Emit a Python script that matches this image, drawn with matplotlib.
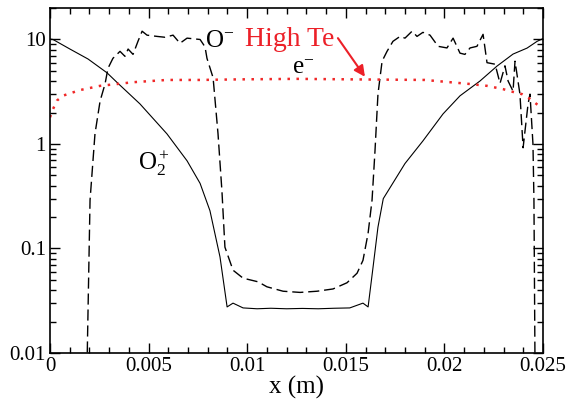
import numpy as np
import matplotlib
matplotlib.use("Agg")
import matplotlib.pyplot as plt
from matplotlib.ticker import FixedLocator, FixedFormatter, LogLocator, NullFormatter, MultipleLocator

plt.rcParams['font.family'] = ['Liberation Serif', 'DejaVu Serif']
plt.rcParams['mathtext.fontset'] = 'custom'
plt.rcParams['mathtext.rm'] = 'Liberation Serif'
plt.rcParams['mathtext.it'] = 'Liberation Serif:italic'

# O2+ (solid)
x_o2 = [0.0, 0.00015, 0.00101, 0.00193, 0.00289, 0.00345, 0.00456, 0.00593, 0.00695,
        0.00761, 0.00811, 0.00862, 0.00898, 0.00928, 0.00979, 0.0105, 0.0112, 0.012,
        0.0128, 0.0136, 0.0144, 0.0152, 0.01587, 0.01613, 0.01638, 0.01663, 0.01690,
        0.0180, 0.01891, 0.01993, 0.02079, 0.0218, 0.02267, 0.02348, 0.02419, 0.0247, 0.025]
y_o2 = [10.1, 10.0, 8.1, 6.5, 4.8, 3.8, 2.42, 1.25, 0.69,
        0.42, 0.23, 0.083, 0.0276, 0.030, 0.027, 0.0265, 0.0268, 0.0265,
        0.0267, 0.0265, 0.0268, 0.027, 0.030, 0.0276, 0.066, 0.16, 0.30,
        0.65, 1.07, 1.94, 2.89, 4.0, 5.57, 7.25, 8.27, 9.6, 10.2]

# O- (dashed)
x_on = [0.00186, 0.00203, 0.00228, 0.00254, 0.00279, 0.00294, 0.00319, 0.00355, 0.0038,
        0.00396, 0.00421, 0.00446, 0.00467, 0.00492, 0.00543, 0.00583, 0.00624, 0.00659,
        0.00695, 0.00761, 0.00786, 0.00796, 0.00827, 0.00852, 0.00872, 0.00887, 0.00928,
        0.00979, 0.01055, 0.011, 0.01182, 0.01268, 0.01354, 0.01435, 0.01506, 0.01557,
        0.01587, 0.01613, 0.01633, 0.01648, 0.01663, 0.01684, 0.01709, 0.01739, 0.01775,
        0.018, 0.01836, 0.01861, 0.01891, 0.01927, 0.01968, 0.02013, 0.02044, 0.02079,
        0.02104, 0.0213, 0.02165, 0.02196, 0.02216, 0.02257, 0.02282, 0.02307, 0.02323,
        0.02348, 0.02358, 0.02383, 0.02399, 0.02424, 0.02434, 0.02449, 0.02454, 0.0246]
y_on = [0.005, 0.29, 1.25, 2.58, 3.75, 5.3, 6.6, 7.7, 6.9,
        8.1, 7.2, 9.6, 12.0, 11.0, 10.7, 10.5, 11.0, 9.2,
        10.3, 10.0, 8.5, 6.6, 4.3, 1.25, 0.35, 0.103, 0.062,
        0.052, 0.048, 0.043, 0.039, 0.038, 0.039, 0.041, 0.047, 0.058,
        0.077, 0.14, 0.29, 0.86, 3.0, 6.2, 7.7, 9.6, 10.7,
        10.3, 12.0, 10.7, 11.7, 11.0, 8.6, 8.3, 10.3, 7.4,
        7.2, 8.3, 8.6, 11.2, 6.0, 5.8, 3.8, 5.6, 4.0,
        3.2, 6.2, 3.0, 0.92, 2.4, 3.0, 1.0, 0.29, 0.005]

# e- (dotted)
x_e = [0.0, 0.00015, 0.00035, 0.00066, 0.00152, 0.00254, 0.0034, 0.00421, 0.00593,
       0.0076, 0.0095, 0.0125, 0.0155, 0.0190, 0.02029, 0.0213, 0.02216, 0.02297,
       0.02348, 0.02393, 0.02434, 0.02469, 0.025]
y_e = [1.8, 2.15, 2.6, 2.9, 3.28, 3.6, 3.75, 3.9, 4.1,
       4.1, 4.15, 4.2, 4.15, 4.1, 3.9, 3.75, 3.6, 3.35,
       3.15, 3.0, 2.7, 2.4, 2.2]

fig = plt.figure(figsize=(5.67, 4.01), dpi=100)
ax = fig.add_axes([0.0882, 0.1197, 0.8695, 0.8603])

ax.plot(x_o2, y_o2, color='black', lw=0.8)
ax.plot(x_on, y_on, color='black', lw=1.0, linestyle=(0, (8, 3.5)))
ax.plot(x_e, y_e, color='#f02828', lw=1.8, linestyle=(0, (1, 2.6)))

ax.set_yscale('log')
ax.set_xlim(0, 0.025)
ax.set_ylim(0.01, 20)

ax.xaxis.set_major_locator(FixedLocator([0, 0.005, 0.01, 0.015, 0.02, 0.025]))
ax.xaxis.set_major_formatter(FixedFormatter(['0', '0.005', '0.01', '0.015', '0.02', '0.025']))
ax.xaxis.set_minor_locator(MultipleLocator(0.001))
ax.yaxis.set_major_locator(FixedLocator([0.01, 0.1, 1, 10]))
ax.yaxis.set_major_formatter(FixedFormatter(['0.01', '0.1', '1', '10']))
ax.yaxis.set_minor_locator(LogLocator(base=10, subs=np.arange(2, 10)))
ax.yaxis.set_minor_formatter(NullFormatter())

ax.tick_params(which='both', direction='in', top=True, right=True, width=1.0,
               labelsize=15, pad=3)
ax.tick_params(which='major', length=7)
ax.tick_params(which='minor', length=4)
for s in ax.spines.values():
    s.set_linewidth(1.2)

ax.set_xlabel('x (m)', fontsize=18, labelpad=0)

ax.text(0.00786, 8.4, r'O$^{-}$', fontsize=18)
ax.text(0.00989, 8.6, 'High Te', fontsize=20, color='#ec2028')
ax.text(0.01227, 4.7, r'e$^{-}$', fontsize=18)
ax.text(0.00446, 0.56, r'O$_2^+$', fontsize=18)
ax.annotate('', xy=(0.01597, 4.4), xytext=(0.0146, 10.3),
            arrowprops=dict(arrowstyle='-|>', color='#ec2028', lw=1.5,
                            mutation_scale=16, shrinkA=0, shrinkB=0))

fig.savefig('out.png', dpi=100)
